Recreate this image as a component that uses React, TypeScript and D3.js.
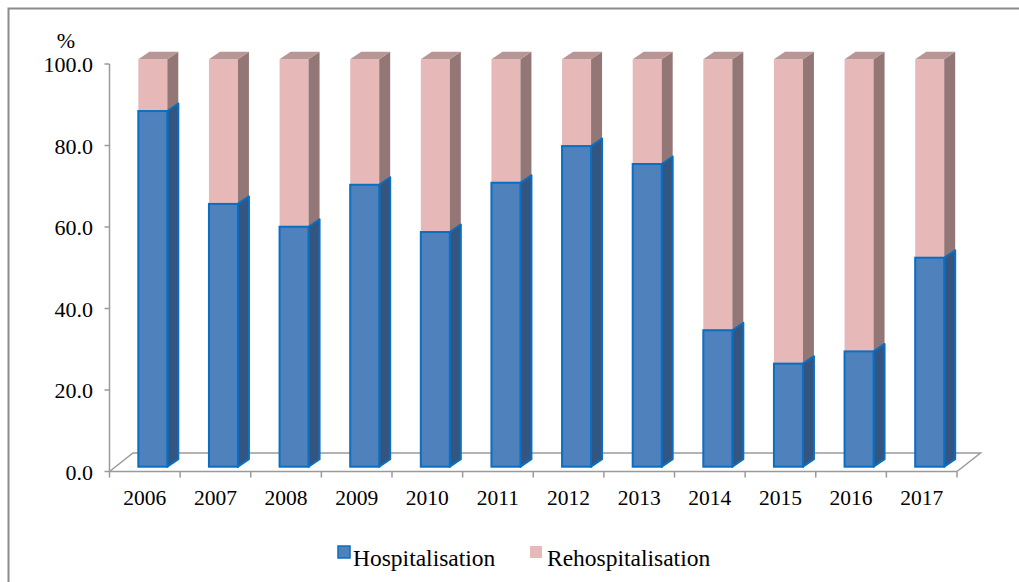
import React from 'react';
import * as d3 from 'd3';

// values
const years = ['2006', '2007', '2008', '2009', '2010', '2011', '2012', '2013', '2014', '2015', '2016', '2017'];
const hospitalisation = [87.3, 64.5, 58.9, 69.2, 57.6, 69.7, 78.7, 74.3, 33.5, 25.3, 28.3, 51.3];
const rehospitalisation = [12.7, 35.5, 41.1, 30.8, 42.4, 30.3, 21.3, 25.7, 66.5, 74.7, 71.7, 48.7];
const yTicks = [0, 20, 40, 60, 80, 100];
const seriesNames = ['Hospitalisation', 'Rehospitalisation'];

const W = 1019;
const H = 582;
const FONT = 'Liberation Serif, Times New Roman, DejaVu Serif, serif';

// 3d offsets
const DEPTH_X = 11;
const DEPTH_Y = -7.5;
const FLOOR_X = 23.5;
const FLOOR_Y = -18.5;
const BAR_W = 29;

const colors = {
  blueFront: '#4f81bd',
  blueSide: '#34557f',
  blueStroke: '#0a6fc2',
  pinkFront: '#e6b9b8',
  pinkSide: '#937776',
  pinkTop: '#b89696',
  axis: '#9a9a9a',
};

const tickTxt: React.CSSProperties = { fontFamily: FONT, fontSize: '22px' };
const yearTxt: React.CSSProperties = { fontFamily: FONT, fontSize: '21.5px' };
const legendTxt: React.CSSProperties = { fontFamily: FONT, fontSize: '23.5px' };

const App: React.FC = () => {
  const x = d3.scaleBand<string>().domain(years).range([109.5, 957]).paddingInner(0).paddingOuter(0);
  const yAxis = d3.scaleLinear().domain([0, 100]).range([471.5, 64]);
  const yBar = d3.scaleLinear().domain([0, 100]).range([466.7, 59.3]);

  const bw = x.bandwidth();
  const barX = (yr: string) => (x(yr) as number) + (bw - BAR_W) / 2 + 8;

  const x0 = x.range()[0];
  const x1 = x.range()[1];
  const y0 = yAxis(0);

  const sidePath = (bx: number, top: number, bottom: number) =>
    `M${bx + BAR_W},${bottom} L${bx + BAR_W + DEPTH_X},${bottom + DEPTH_Y} L${bx + BAR_W + DEPTH_X},${top + DEPTH_Y} L${bx + BAR_W},${top} Z`;
  const topPath = (bx: number, top: number) =>
    `M${bx},${top} L${bx + DEPTH_X},${top + DEPTH_Y} L${bx + BAR_W + DEPTH_X},${top + DEPTH_Y} L${bx + BAR_W},${top} Z`;

  return (
    <svg width={W} height={H} style={{ position: 'absolute', left: 0, top: 0, background: '#fff' }}>
      {/* outer frame (right and bottom edges fall outside the picture) */}
      <rect x={8.5} y={8.5} width={1030} height={600} fill="none" stroke="#8c8c8c" strokeWidth={2} />

      {/* floor */}
      <path
        d={`M${x0},${y0} L${x0 + FLOOR_X},${y0 + FLOOR_Y} L${x1 + FLOOR_X},${y0 + FLOOR_Y} L${x1},${y0}`}
        fill="none"
        stroke={colors.axis}
        strokeWidth={1.5}
      />

      {/* y axis */}
      <line x1={x0} x2={x0} y1={yAxis(100)} y2={y0} stroke={colors.axis} strokeWidth={1.5} />
      {yTicks.map((t) => (
        <g key={t}>
          <line x1={x0 - 5} x2={x0} y1={yAxis(t)} y2={yAxis(t)} stroke={colors.axis} strokeWidth={1.5} />
          <text x={93} y={yAxis(t) + 8} textAnchor="end" style={tickTxt} fill="#000">
            {t.toFixed(1)}
          </text>
        </g>
      ))}
      <text x={66} y={48} textAnchor="middle" style={tickTxt} fill="#000">%</text>

      {/* x axis */}
      <line x1={x0} x2={x1} y1={y0} y2={y0} stroke={colors.axis} strokeWidth={1.5} />
      <line x1={x0} x2={x0} y1={y0} y2={y0 + 6} stroke={colors.axis} strokeWidth={1.5} />
      {years.map((yr) => (
        <line key={'t' + yr} x1={(x(yr) as number) + bw} x2={(x(yr) as number) + bw} y1={y0} y2={y0 + 6} stroke={colors.axis} strokeWidth={1.5} />
      ))}
      {years.map((yr) => (
        <text key={'l' + yr} x={(x(yr) as number) + bw / 2} y={505} textAnchor="middle" style={yearTxt} fill="#000">
          {yr}
        </text>
      ))}

      {/* bars */}
      {years.map((yr, i) => {
        const bx = barX(yr);
        const hTop = yBar(hospitalisation[i]);
        const rTop = yBar(hospitalisation[i] + rehospitalisation[i]);
        const base = yBar(0);
        return (
          <g key={'b' + yr}>
            <rect x={bx} y={rTop} width={BAR_W} height={hTop - rTop} fill={colors.pinkFront} />
            <path d={sidePath(bx, rTop, hTop)} fill={colors.pinkSide} />
            <path d={topPath(bx, rTop)} fill={colors.pinkTop} />
            <path d={sidePath(bx, hTop, base)} fill={colors.blueSide} stroke={colors.blueStroke} strokeWidth={2} strokeLinejoin="round" />
            <rect x={bx} y={hTop} width={BAR_W} height={base - hTop} fill={colors.blueFront} stroke={colors.blueStroke} strokeWidth={2} />
          </g>
        );
      })}

      {/* legend */}
      <rect x={338} y={546} width={12} height={12} fill={colors.blueFront} stroke={colors.blueStroke} strokeWidth={1.5} />
      <text x={353} y={566} style={legendTxt} fill="#000">{seriesNames[0]}</text>
      <rect x={530} y={546} width={12} height={12} fill={colors.pinkFront} />
      <text x={547} y={566} style={legendTxt} fill="#000">{seriesNames[1]}</text>
    </svg>
  );
};

export default App;
